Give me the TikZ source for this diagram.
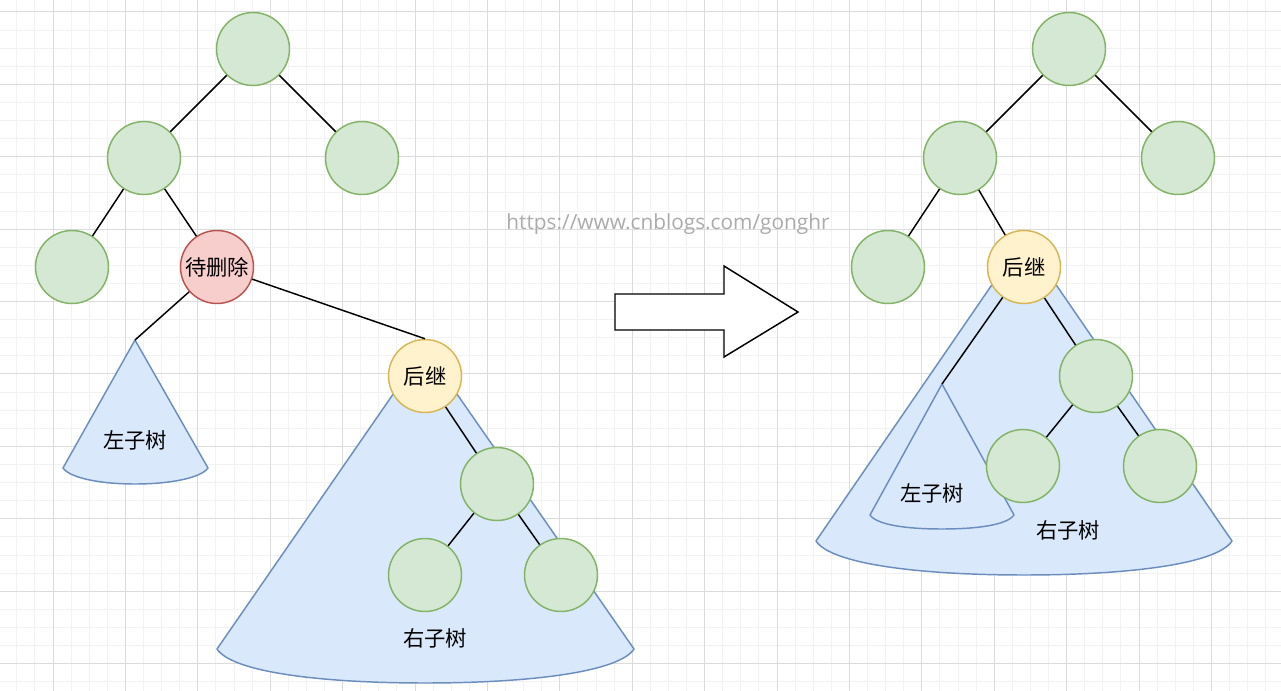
\documentclass[tikz,border=0pt]{standalone}
\usepackage{fontspec}
\newfontfamily\cjk{Noto Sans CJK SC}
\newfontfamily\wm{Open Sans}
\definecolor{gfill}{HTML}{D5E8D4}\definecolor{gline}{HTML}{82B366}
\definecolor{bfill}{HTML}{DAE8FC}\definecolor{bline}{HTML}{6C8EBF}
\definecolor{rfill}{HTML}{F8CECC}\definecolor{rline}{HTML}{B85450}
\definecolor{yfill}{HTML}{FFF2CC}\definecolor{yline}{HTML}{D6B656}
\definecolor{minorgrid}{HTML}{F2F2F2}\definecolor{majorgrid}{HTML}{DCDCDC}
\definecolor{wmgray}{HTML}{ABABAB}
\tikzset{
  tnode/.style={circle,minimum size=54.75pt,inner sep=0pt,line width=1.1pt,font=\cjk\fontsize{16}{16}\selectfont},
  gnode/.style={tnode,draw=gline,fill=gfill},
  rnode/.style={tnode,draw=rline,fill=rfill},
  ynode/.style={tnode,draw=yline,fill=yfill},
  cone/.style={draw=bline,fill=bfill,line width=1.1pt,line join=round},
  edge/.style={draw=black,line width=1.1pt},
  lbl/.style={font=\cjk\fontsize{16}{16}\selectfont,inner sep=0pt}
}
\begin{document}
\begin{tikzpicture}[x=0.75pt,y=-0.75pt]
\useasboundingbox (0,0) rectangle (1281,691);
\fill[white] (0,0) rectangle (1281,691);
% grid
\foreach \k in {-2,...,68}{
  \draw[minorgrid,line width=0.75pt] ({53+\k*18.1},0) -- ({53+\k*18.1},691);
}
\foreach \k in {-1,...,37}{
  \draw[minorgrid,line width=0.75pt] (0,{12+\k*18.1}) -- (1281,{12+\k*18.1});
}
\foreach \k in {0,...,17}{
  \draw[majorgrid,line width=0.75pt] ({53+\k*72.4},0) -- ({53+\k*72.4},691);
}
\foreach \k in {0,...,9}{
  \draw[majorgrid,line width=0.75pt] (0,{12+\k*72.4}) -- (1281,{12+\k*72.4});
}
% watermark
\node[font=\wm\fontsize{15.6}{15.6}\selectfont,text=wmgray,inner sep=0pt] (wm) at (668,224) {https://www.cnblogs.com/gonghr};
% ---------- left tree ----------
\coordinate (lapex) at (135,340);
\coordinate (bapex) at (425,348);
\path[cone] (lapex) -- (63,468) .. controls (70,478) and (100,484) .. (135,484)
  .. controls (170,484) and (201,478) .. (208,468) -- cycle;
\path[cone] (bapex) -- (217,649) .. controls (232,672) and (320,683) .. (425,683)
  .. controls (530,683) and (619,672) .. (634,649) -- cycle;
\node[lbl] (lt1) at (135,440) {左子树};
\node[lbl] (rt1) at (435,638) {右子树};
\node[gnode] (a1) at (253,49) {};
\node[gnode] (a2) at (144,158) {};
\node[gnode] (a3) at (362,158) {};
\node[gnode] (a4) at (72,267) {};
\node[rnode] (del) at (217,267) {待删除};
\node[ynode] (suc) at (425,376) {后继};
\node[gnode] (a5) at (497,484) {};
\node[gnode] (a6) at (425,575) {};
\node[gnode] (a7) at (561,575) {};
\draw[edge] (a1) -- (a2);
\draw[edge] (a1) -- (a3);
\draw[edge] (a2) -- (a4);
\draw[edge] (a2) -- (del);
\draw[edge] (del) -- (lapex);
\draw[edge] (del) -- (suc.north);
\draw[edge] (suc) -- (a5);
\draw[edge] (a5) -- (a6);
\draw[edge] (a5) -- (a7);
% ---------- arrow ----------
\draw[line width=1.1pt,fill=white,line join=miter] (615,294) -- (724,294) -- (724,266) -- (798,312)
  -- (724,357) -- (724,330) -- (615,330) -- cycle;
% ---------- right tree ----------
\coordinate (bapex2) at (1024,238);
\coordinate (lapex2) at (942,384);
\path[cone] (bapex2) -- (816,541) .. controls (831,564) and (919,575) .. (1024,575)
  .. controls (1129,575) and (1217,564) .. (1232,541) -- cycle;
\path[cone] (lapex2) -- (870,515) .. controls (877,525) and (907,529) .. (942,529)
  .. controls (977,529) and (1007,525) .. (1014,515) -- cycle;
\node[lbl] (lt2) at (932,493) {左子树};
\node[lbl] (rt2) at (1068,530) {右子树};
\node[gnode] (b1) at (1069,49) {};
\node[gnode] (b2) at (960,158) {};
\node[gnode] (b3) at (1178,158) {};
\node[gnode] (b4) at (888,267) {};
\node[ynode] (suc2) at (1024,267) {后继};
\node[gnode] (b5) at (1096,376) {};
\node[gnode] (b6) at (1023,466) {};
\node[gnode] (b7) at (1160,466) {};
\draw[edge] (b1) -- (b2);
\draw[edge] (b1) -- (b3);
\draw[edge] (b2) -- (b4);
\draw[edge] (b2) -- (suc2);
\draw[edge] (suc2) -- (lapex2);
\draw[edge] (suc2) -- (b5);
\draw[edge] (b5) -- (b6);
\draw[edge] (b5) -- (b7);
\end{tikzpicture}
\end{document}
